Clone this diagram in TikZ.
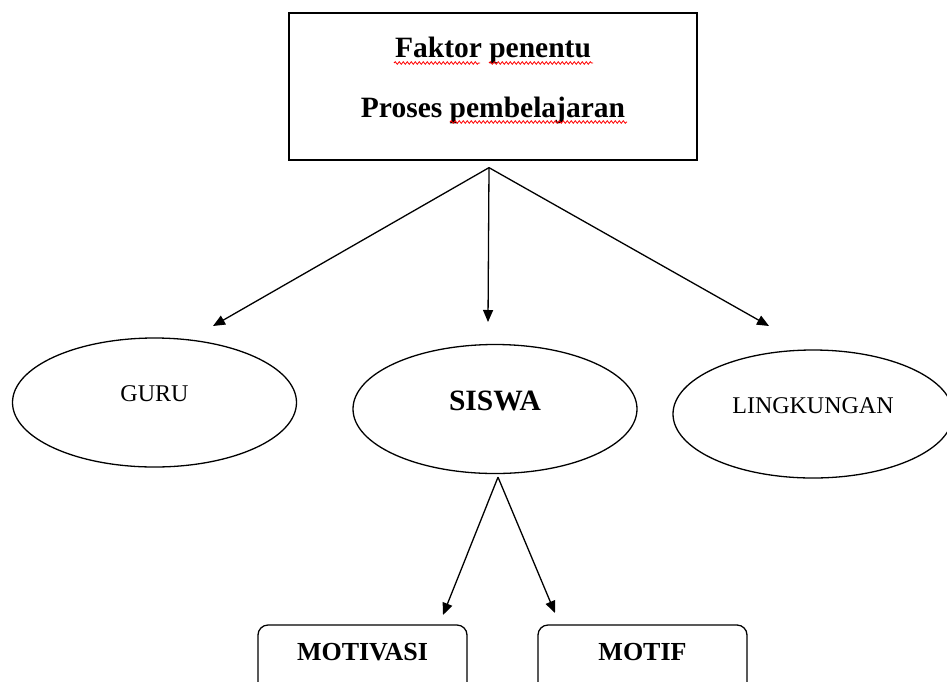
\documentclass[tikz,border=0pt]{standalone}
\usepackage{fontspec}
\setmainfont{Liberation Serif}
\usetikzlibrary{arrows.meta,shapes.geometric,decorations.pathmorphing}
\begin{document}
\begin{tikzpicture}[x=1pt,y=-1pt,>={Triangle[length=12pt,width=10pt]},line width=1.3pt,
        oval/.style={ellipse,draw,minimum width=284pt,minimum height=129pt,inner sep=0pt,
            text depth=17pt,font=\fontsize{24}{28}\selectfont},
        kotak/.style={draw,rounded corners=10pt,minimum width=209pt,minimum height=75pt,
            text depth=22pt,font=\bfseries\fontsize{26}{30}\selectfont},
        salah/.style={red,line width=0.8pt,decorate,
            decoration={snake,amplitude=1.3pt,segment length=4pt}}]
    \useasboundingbox (0,0) rectangle (947,681);
    \clip (0,0) rectangle (947,681);
    %===========================================
    \node[draw,minimum width=408pt,minimum height=147pt,align=center,text depth=19pt,
        font=\bfseries\fontsize{29.5}{60}\selectfont] (faktor) at (493,86.5)
        {Faktor penentu\\Proses pembelajaran};
    \draw[salah] (394,63)--(480,63);
    \draw[salah] (489,63)--(593,63);
    \draw[salah] (450,122)--(627,122);
    %===========================================
    \node[oval] (guru) at (154.5,402.5) {GURU};
    \node[oval,font=\bfseries\fontsize{29.5}{32}\selectfont] (siswa) at (495,409) {SISWA};
    \node[oval,minimum width=280pt,minimum height=128pt] (lingkungan) at (813,414) {LINGKUNGAN};
    \node[kotak] (motivasi) at (362.5,662.5) {MOTIVASI};
    \node[kotak] (motif) at (642.5,662.5) {MOTIF};
    %===========================================
    \coordinate (pangkal) at ([shift={(-4,7)}]faktor.south);
    \coordinate (cabang) at ([shift={(3,3)}]siswa.south);
    \coordinate (keguru) at (213,326);
    \coordinate (kesiswa) at (488,322);
    \coordinate (kelingkungan) at (769,326);
    \coordinate (kemotivasi) at (443,615);
    \coordinate (kemotif) at (555,613);
    \foreach \t in {keguru,kesiswa,kelingkungan}
        \draw[->] (pangkal)--(\t);
    \foreach \t in {kemotivasi,kemotif}
        \draw[->] (cabang)--(\t);
\end{tikzpicture}
\end{document}
